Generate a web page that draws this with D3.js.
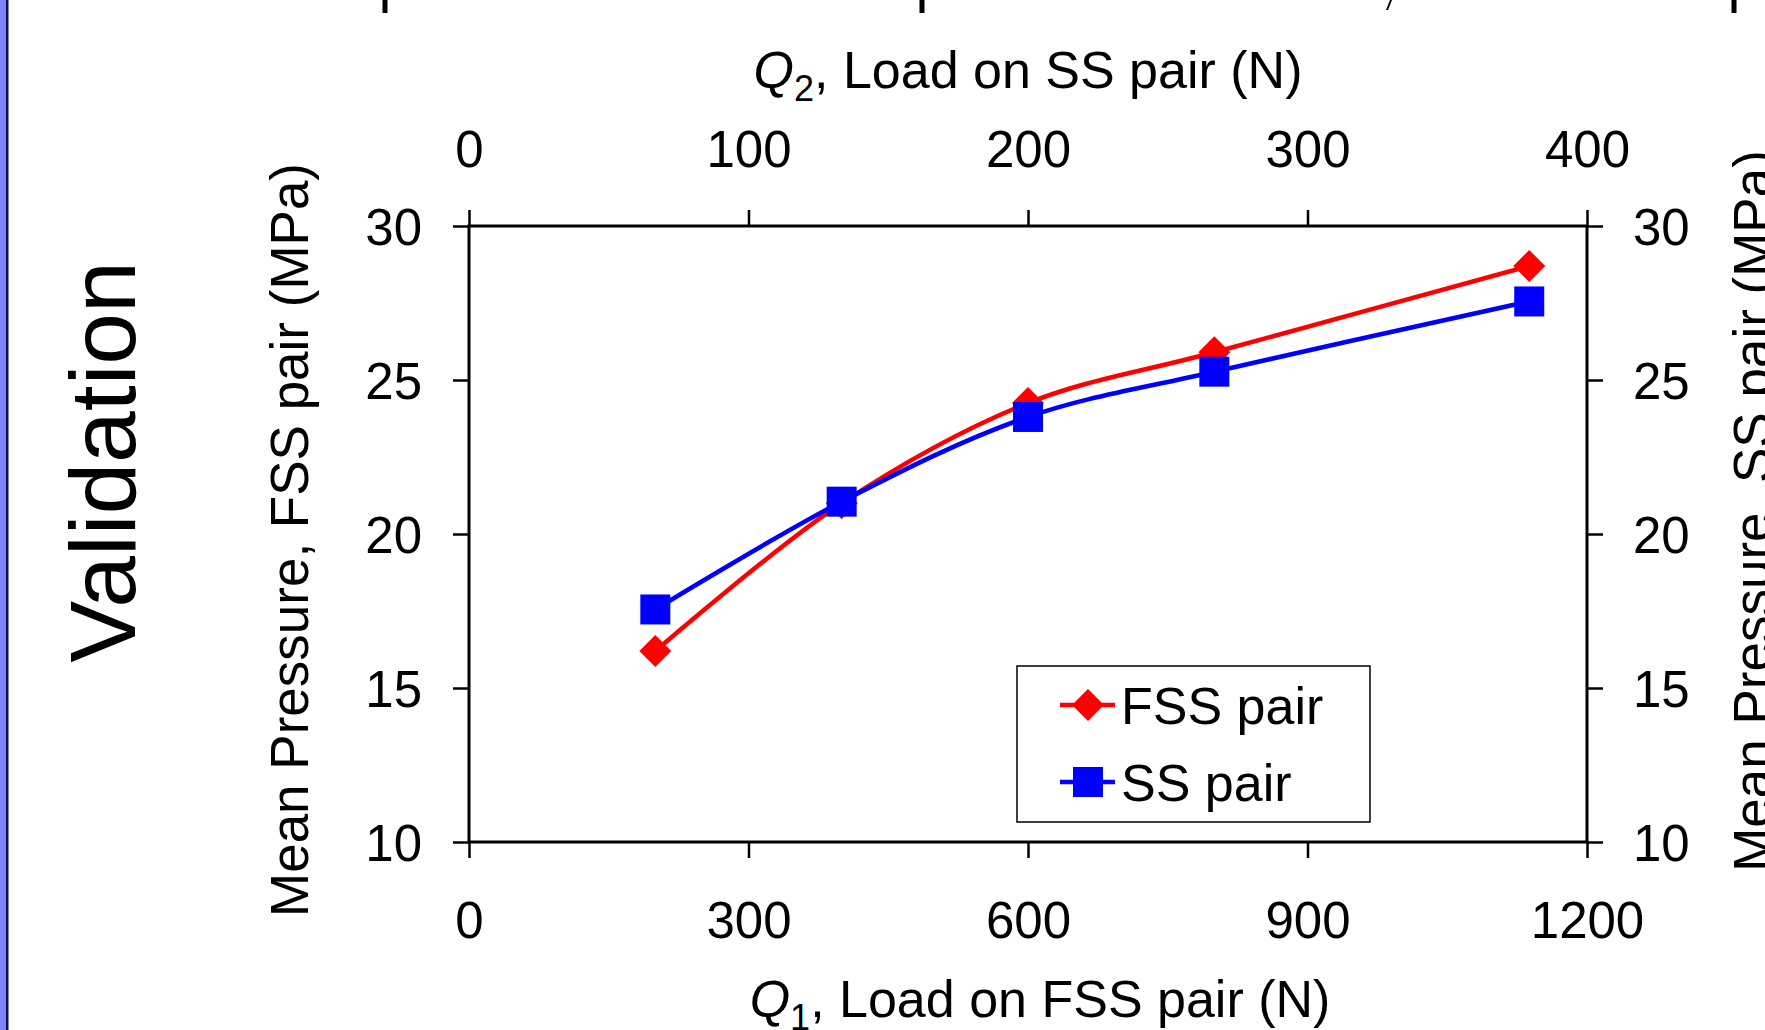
<!DOCTYPE html>
<html>
<head>
<meta charset="utf-8">
<script src="https://cdn.jsdelivr.net/npm/d3@7"></script>
<style>
  body { margin: 0; background: #fff; }
  text { font-family: "Liberation Sans", Arial, sans-serif; fill: #000; }
</style>
</head>
<body>
<div id="chart"></div>
<script>
// Data
const loadFSS = [200, 400, 600, 800, 1138];          // Q1 (N)
const pressureFSS = [16.2, 21.0, 24.25, 25.9, 28.7]; // MPa
const pressureSS = [17.55, 21.05, 23.8, 25.27, 27.55];
const seriesNames = ["FSS pair", "SS pair"];
const seriesColors = ["#ff0000", "#0000ff"];
const bottomTicks = [0, 300, 600, 900, 1200];
const topTicks = [0, 100, 200, 300, 400];
const yTicks = [10, 15, 20, 25, 30];

const W = 1765, H = 1030;
const margin = { top: 226, right: 178, bottom: 188, left: 469 };
const width = W - margin.left - margin.right;
const height = H - margin.top - margin.bottom;

const svg = d3.select("#chart").append("svg")
    .attr("width", W)
    .attr("height", H);

// slide edge on the left
svg.append("rect").attr("x", 0).attr("y", 0).attr("width", 6).attr("height", H).attr("fill", "#8080fa");
svg.append("rect").attr("x", 6).attr("y", 0).attr("width", 2.5).attr("height", H).attr("fill", "#10104a");

// cut-off descenders of the slide heading above
[385, 922, 1734].forEach(x => {
    svg.append("rect").attr("x", x - 2.5).attr("y", 0).attr("width", 5).attr("height", 13).attr("fill", "#000");
});
svg.append("path").attr("d", "M1390,0 L1392,0 L1388,10 L1386,10 Z").attr("fill", "#000");

svg.append("text")
    .attr("transform", "translate(135,462) rotate(-90)")
    .attr("text-anchor", "middle")
    .style("font-size", "93px")
    .text("Validation");

const g = svg.append("g")
    .attr("transform", "translate(" + margin.left + "," + margin.top + ")");

const x = d3.scaleLinear().domain([0, 1200]).range([0, width]);
const x2 = d3.scaleLinear().domain([0, 400]).range([0, width]);
const y = d3.scaleLinear().domain([10, 30]).range([height, 0]);

function styleAxis(sel) {
    sel.select(".domain").remove();
    sel.selectAll(".tick line").attr("stroke", "#000").attr("stroke-width", 2.5);
    sel.selectAll(".tick text").style("font-size", "51px").attr("fill", "#000");
}

// bottom axis
g.append("g")
    .attr("transform", "translate(0," + height + ")")
    .call(d3.axisBottom(x).tickValues(bottomTicks).tickFormat(d3.format("d")).tickSize(16).tickPadding(0))
    .call(styleAxis)
    .selectAll(".tick text").attr("dy", null).attr("y", 96);

// top axis
g.append("g")
    .call(d3.axisTop(x2).tickValues(topTicks).tickFormat(d3.format("d")).tickSize(16).tickPadding(0))
    .call(styleAxis)
    .selectAll(".tick text").attr("dy", null).attr("y", -59);

// left axis
g.append("g")
    .call(d3.axisLeft(y).tickValues(yTicks).tickSize(16).tickPadding(0))
    .call(styleAxis)
    .selectAll(".tick text").attr("dy", null).attr("x", -47).attr("y", 18);

// right axis
g.append("g")
    .attr("transform", "translate(" + width + ",0)")
    .call(d3.axisRight(y).tickValues(yTicks).tickSize(16).tickPadding(0))
    .call(styleAxis)
    .selectAll(".tick text").attr("dy", null).attr("x", 46).attr("y", 18);

// plot frame
g.append("rect")
    .attr("width", width)
    .attr("height", height)
    .attr("fill", "none")
    .attr("stroke", "#000")
    .attr("stroke-width", 3);

// axis titles
const topTitle = svg.append("text")
    .attr("x", margin.left + width / 2)
    .attr("y", 88)
    .attr("text-anchor", "middle")
    .style("font-size", "52px");
topTitle.append("tspan").style("font-style", "italic").text("Q");
topTitle.append("tspan").attr("dy", 13).style("font-size", "36px").text("2");
topTitle.append("tspan").attr("dy", -13).text(", Load on SS pair (N)");

const bottomTitle = svg.append("text")
    .attr("x", margin.left + width / 2 + 12)
    .attr("y", 1017)
    .attr("text-anchor", "middle")
    .style("font-size", "52px");
bottomTitle.append("tspan").style("font-style", "italic").text("Q");
bottomTitle.append("tspan").attr("dy", 13).style("font-size", "36px").text("1");
bottomTitle.append("tspan").attr("dy", -13).text(", Load on FSS pair (N)");

svg.append("text")
    .attr("transform", "translate(308,540) rotate(-90)")
    .attr("text-anchor", "middle")
    .style("font-size", "53px")
    .text("Mean Pressure, FSS pair (MPa)");

svg.append("text")
    .attr("transform", "translate(1771,511) rotate(-90)")
    .attr("text-anchor", "middle")
    .style("font-size", "53px")
    .text("Mean Pressure, SS pair (MPa)");

// series
const series = [
    { name: seriesNames[0], color: seriesColors[0], values: pressureFSS, shape: "diamond" },
    { name: seriesNames[1], color: seriesColors[1], values: pressureSS, shape: "square" }
];

const line = d3.line()
    .x(d => x(d[0]))
    .y(d => y(d[1]))
    .curve(d3.curveCatmullRom);

const diamond = d3.symbol().type(d3.symbolSquare).size(512);
const square = d3.symbol().type(d3.symbolSquare).size(900);

series.forEach(s => {
    const pts = loadFSS.map((q, i) => [q, s.values[i]]);
    g.append("path")
        .datum(pts)
        .attr("fill", "none")
        .attr("stroke", s.color)
        .attr("stroke-width", 4.5)
        .attr("d", line);

    g.selectAll(null)
        .data(pts)
        .enter().append("path")
        .attr("d", s.shape === "diamond" ? diamond() : square())
        .attr("fill", s.color)
        .attr("transform", d => "translate(" + x(d[0]) + "," + y(d[1]) + ")" + (s.shape === "diamond" ? " rotate(45)" : ""));
});

// legend
const legend = svg.append("g").attr("transform", "translate(1017,666)");
legend.append("rect")
    .attr("width", 353)
    .attr("height", 156)
    .attr("fill", "#fff")
    .attr("stroke", "#000")
    .attr("stroke-width", 1.5);

const items = legend.selectAll(".item")
    .data(series)
    .enter().append("g")
    .attr("class", "item")
    .attr("transform", (d, i) => "translate(0," + (39 + i * 77) + ")");

items.append("line")
    .attr("x1", 43).attr("x2", 98)
    .attr("stroke", d => d.color)
    .attr("stroke-width", 4.5);

items.append("path")
    .attr("d", d => d.shape === "diamond" ? diamond() : square())
    .attr("fill", d => d.color)
    .attr("transform", d => "translate(71,0)" + (d.shape === "diamond" ? " rotate(45)" : ""));

items.append("text")
    .attr("x", 104)
    .attr("y", 19)
    .style("font-size", "52px")
    .text(d => d.name);
</script>
</body>
</html>
